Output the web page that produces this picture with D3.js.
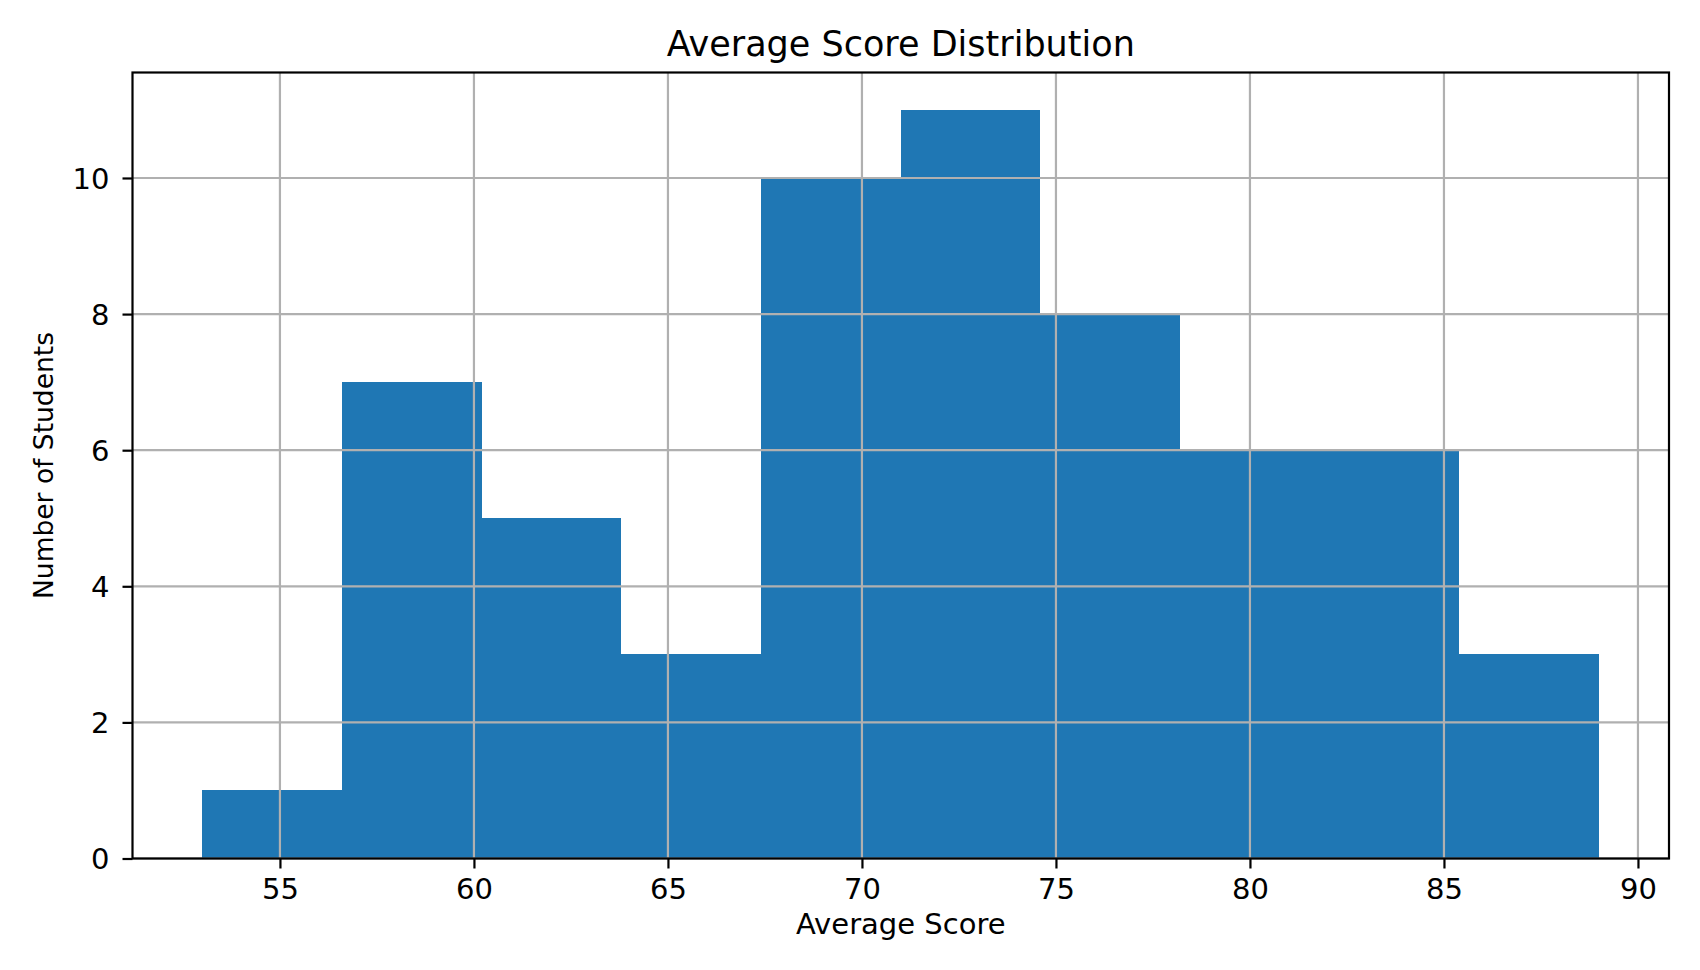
<!DOCTYPE html>
<html>
<head>
<meta charset="utf-8">
<script src="https://cdn.jsdelivr.net/npm/d3@7"></script>
<style>
  body { margin: 0; background: #fff; }
  text { font-family: "DejaVu Sans", sans-serif; fill: #000; }
</style>
</head>
<body>
<div class="chart"></div>
<script>
// histogram bins (edges) and counts
var binEdges = [53.0, 56.6, 60.2, 63.8, 67.4, 71.0, 74.6, 78.2, 81.8, 85.4, 89.0];
var counts = [1, 7, 5, 3, 10, 11, 8, 6, 6, 3];
var xTicks = [55, 60, 65, 70, 75, 80, 85, 90];
var yTicks = [0, 2, 4, 6, 8, 10];

var svgWidth = 1700;
var svgHeight = 970;

var margin = { top: 72.5, right: 31, bottom: 111.5, left: 132.5 };
var width = svgWidth - margin.left - margin.right;
var height = svgHeight - margin.top - margin.bottom;

var svg = d3.select(".chart")
  .append("svg")
  .attr("width", svgWidth)
  .attr("height", svgHeight);

var chartGroup = svg.append("g")
  .attr("transform", `translate(${margin.left}, ${margin.top})`);

// matplotlib style 5% margins on x
var lo = d3.min(binEdges), hi = d3.max(binEdges);
var pad = (hi - lo) * 0.05;
var xScale = d3.scaleLinear()
  .domain([lo - pad, hi + pad])
  .range([0, width]);

var yScale = d3.scaleLinear()
  .domain([0, d3.max(counts) * 1.05])
  .range([height, 0]);

var bins = counts.map((c, i) => ({ x0: binEdges[i], x1: binEdges[i + 1], n: c }));

// bars
chartGroup.selectAll("rect.bar")
  .data(bins)
  .enter()
  .append("rect")
  .attr("class", "bar")
  .attr("x", d => xScale(d.x0))
  .attr("width", d => xScale(d.x1) - xScale(d.x0))
  .attr("y", d => yScale(d.n))
  .attr("height", d => yScale(0) - yScale(d.n))
  .attr("fill", "#1f77b4")
  .attr("shape-rendering", "crispEdges");

// grid lines drawn over the bars
chartGroup.append("g")
  .selectAll("line")
  .data(xTicks)
  .enter()
  .append("line")
  .attr("x1", d => xScale(d)).attr("x2", d => xScale(d))
  .attr("y1", 0).attr("y2", height)
  .attr("stroke", "#b0b0b0")
  .attr("stroke-width", 2.2);

chartGroup.append("g")
  .selectAll("line")
  .data(yTicks)
  .enter()
  .append("line")
  .attr("x1", 0).attr("x2", width)
  .attr("y1", d => yScale(d)).attr("y2", d => yScale(d))
  .attr("stroke", "#b0b0b0")
  .attr("stroke-width", 2.2);

// axes
var bottomAxis = d3.axisBottom(xScale)
  .tickValues(xTicks)
  .tickSize(10)
  .tickPadding(9)
  .tickSizeOuter(0);

var leftAxis = d3.axisLeft(yScale)
  .tickValues(yTicks)
  .tickSize(10)
  .tickPadding(13)
  .tickSizeOuter(0);

var xAxis = chartGroup.append("g")
  .attr("transform", `translate(0, ${height})`)
  .call(bottomAxis);

var yAxis = chartGroup.append("g")
  .call(leftAxis);

[xAxis, yAxis].forEach(function(ax) {
  ax.select(".domain").remove();
  ax.selectAll("line").attr("stroke", "#000").attr("stroke-width", 2.2);
  ax.selectAll("text")
    .style("font-family", "'DejaVu Sans', sans-serif")
    .style("font-size", "29px")
    .attr("fill", "#000");
});
xAxis.selectAll("text").attr("dy", "0.73em");
yAxis.selectAll("text").attr("dy", "0.36em");

// frame
chartGroup.append("rect")
  .attr("x", 0).attr("y", 0)
  .attr("width", width).attr("height", height)
  .attr("fill", "none")
  .attr("stroke", "#000")
  .attr("stroke-width", 2.2);

// title and labels
chartGroup.append("text")
  .attr("x", width / 2)
  .attr("y", 55.7 - margin.top)
  .attr("text-anchor", "middle")
  .style("font-size", "35px")
  .text("Average Score Distribution");

chartGroup.append("text")
  .attr("x", width / 2)
  .attr("y", 934 - margin.top)
  .attr("text-anchor", "middle")
  .style("font-size", "29px")
  .text("Average Score");

chartGroup.append("text")
  .attr("transform", "rotate(-90)")
  .attr("x", -height / 2)
  .attr("y", 43 - margin.left)
  .attr("dy", "0.36em")
  .attr("text-anchor", "middle")
  .style("font-size", "26.5px")
  .text("Number of Students");
</script>
</body>
</html>
